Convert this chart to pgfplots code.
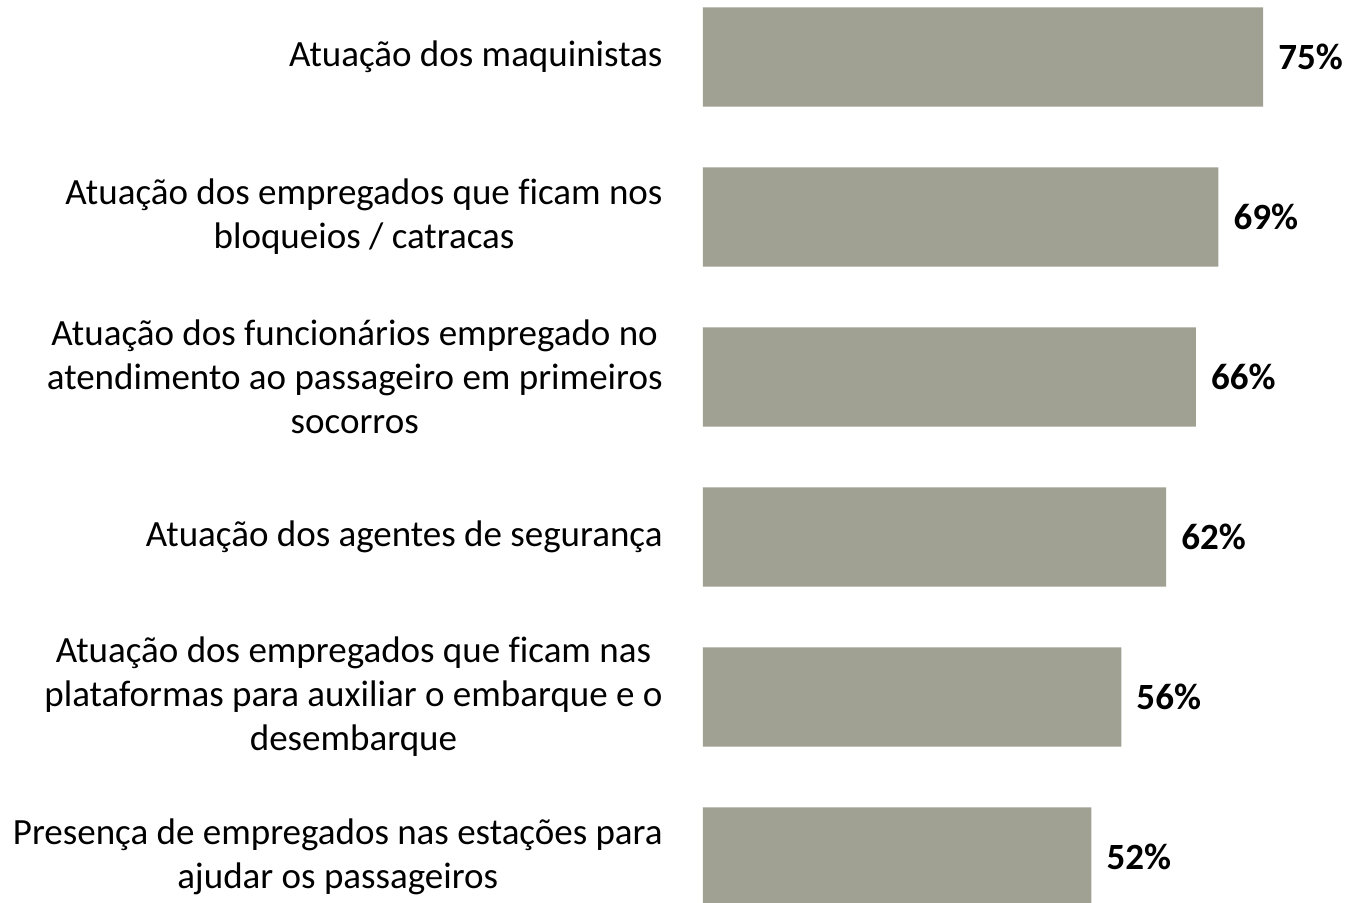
\documentclass[border=0pt]{standalone}
\usepackage{pgfplots}
\pgfplotsset{compat=1.18}
\usepackage{fontspec}
\setmainfont[Ligatures=NoCommon]{Carlito}
\definecolor{bargray}{RGB}{160,160,147}
\begin{document}
\begin{tikzpicture}
\useasboundingbox (-703bp,0) rectangle (648bp,903bp);
\begin{axis}[
  at={(0,0)}, anchor=south west,
  scale only axis,
  width=648bp, height=903bp,
  xbar,
  xmin=0, xmax=86.75,
  ymin=-0.356, ymax=5.2875,
  y dir=reverse,
  bar width=0.62,
  clip=false,
  axis line style={draw=none},
  tick style={draw=none},
  xtick=\empty,
  ytick={0,1,2,3,4,5},
  yticklabels={
    {Atuação dos maquinistas},
    {Atuação dos empregados que ficam nos\\bloqueios / catracas},
    {Atuação dos funcionários empregado no\\atendimento ao passageiro em primeiros\\socorros},
    {Atuação dos agentes de segurança},
    {Atuação dos empregados que ficam nas\\plataformas para auxiliar o embarque e o\\desembarque},
    {Presença de empregados nas estações para\\ajudar os passageiros}
  },
  yticklabel style={align=center, inner sep=0pt, xshift=-36bp,
    font=\fontsize{37bp}{44bp}\selectfont},
  nodes near coords={\pgfmathprintnumber[assume math mode=true]{\pgfplotspointmeta}\%},
  point meta=x,
  nodes near coords style={anchor=west, inner sep=0pt, xshift=15bp,
    font=\fontsize{37bp}{44bp}\selectfont\bfseries, black},
]
\addplot[fill=bargray, draw=none] coordinates {
  (75,0) (69,1) (66,2) (62,3) (56,4) (52,5)
};
\end{axis}
\end{tikzpicture}
\end{document}
